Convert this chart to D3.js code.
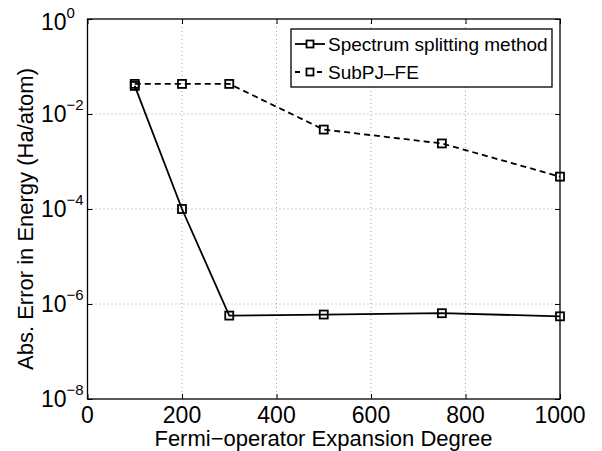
<!DOCTYPE html>
<html>
<head>
<meta charset="utf-8">
<script src="https://cdn.jsdelivr.net/npm/d3@7"></script>
<style>
  html, body { margin: 0; padding: 0; background: #fff; }
  svg { display: block; font-family: "Liberation Sans", Arial, Helvetica, sans-serif; }
</style>
</head>
<body>
<svg id="chart" width="602" height="451"></svg>
<script>
// ---- data ----
const degrees = [100, 200, 300, 500, 750, 1000];
const spectrumSplitting = [3.9e-2, 1.0e-4, 5.7e-7, 6.0e-7, 6.4e-7, 5.5e-7];
const subPJFE = [4.3e-2, 4.3e-2, 4.3e-2, 4.7e-3, 2.4e-3, 4.8e-4];
const xTicks = [0, 200, 400, 600, 800, 1000];
const yTickExponents = [0, -2, -4, -6, -8];
const seriesNames = ["Spectrum splitting method", "SubPJ\u2013FE"];
const xLabel = "Fermi\u2212operator Expansion Degree";
const yLabel = "Abs. Error in Energy (Ha/atom)";

// ---- layout ----
const svg = d3.select("#chart");
const L = 87.5, R = 560, T = 19, B = 399;
const x = d3.scaleLinear().domain([0, 1000]).range([L, R]);
const y = d3.scaleLog().domain([1e-8, 1]).range([B, T]);

// grid
const grid = svg.append("g").attr("stroke", "#a0a0a0").attr("stroke-width", 1)
  .attr("stroke-dasharray", "1,3");
xTicks.slice(1, -1).forEach(t => {
  grid.append("line").attr("x1", x(t)).attr("x2", x(t)).attr("y1", T).attr("y2", B);
});
yTickExponents.slice(1, -1).forEach(e => {
  grid.append("line").attr("x1", L).attr("x2", R).attr("y1", y(Math.pow(10, e))).attr("y2", y(Math.pow(10, e)));
});

// axes via d3 axis (ticks inside)
const tickLen = 5;
svg.append("g").attr("transform", `translate(0,${B})`)
  .call(d3.axisBottom(x).tickValues(xTicks).tickSize(-tickLen).tickFormat(""))
  .call(g => g.select(".domain").remove());
svg.append("g").attr("transform", `translate(0,${T})`)
  .call(d3.axisTop(x).tickValues(xTicks).tickSize(-tickLen).tickFormat(""))
  .call(g => g.select(".domain").remove());
const yTickVals = yTickExponents.map(e => Math.pow(10, e));
svg.append("g").attr("transform", `translate(${L},0)`)
  .call(d3.axisLeft(y).tickValues(yTickVals).tickSize(-tickLen).tickFormat(""))
  .call(g => g.select(".domain").remove());
svg.append("g").attr("transform", `translate(${R},0)`)
  .call(d3.axisRight(y).tickValues(yTickVals).tickSize(-tickLen).tickFormat(""))
  .call(g => g.select(".domain").remove());
svg.selectAll(".tick line").attr("stroke", "#000").attr("stroke-width", 1);

// box
svg.append("rect").attr("x", L).attr("y", T).attr("width", R - L).attr("height", B - T)
  .attr("fill", "none").attr("stroke", "#000").attr("stroke-width", 1.3);

// x tick labels
svg.append("g").selectAll("text").data(xTicks).join("text")
  .attr("x", d => x(d)).attr("y", 423)
  .attr("text-anchor", "middle").attr("font-size", 23).attr("fill", "#000")
  .text(d => d);

// y tick labels 10^e
const yl = svg.append("g");
yTickExponents.forEach(e => {
  const off = e === 0 ? 3 : 0;
  const t = yl.append("text").attr("x", 41).attr("y", y(Math.pow(10, e)) + 8 + off)
    .attr("font-size", 23).attr("fill", "#000");
  t.append("tspan").text("10");
  t.append("tspan").attr("font-size", 15).attr("dy", -12).text(e === 0 ? "0" : "\u2212" + Math.abs(e));
});

// axis labels
svg.append("text").attr("x", (150 + 497) / 2).attr("y", 446)
  .attr("text-anchor", "middle").attr("font-size", 22).attr("fill", "#000").text(xLabel);
svg.append("text").attr("transform", `translate(33,219) rotate(-90)`)
  .attr("text-anchor", "middle").attr("font-size", 22).attr("fill", "#000").text(yLabel);

// lines
const line = d3.line().x(d => x(d[0])).y(d => y(d[1]));
const series = [
  { name: seriesNames[0], values: spectrumSplitting, dash: null },
  { name: seriesNames[1], values: subPJFE, dash: "6,4" }
];
const ms = 8;
series.forEach(s => {
  const pts = degrees.map((d, i) => [d, s.values[i]]);
  svg.append("path").datum(pts).attr("d", line)
    .attr("fill", "none").attr("stroke", "#000").attr("stroke-width", 1.8)
    .attr("stroke-dasharray", s.dash);
  svg.append("g").selectAll("rect").data(pts).join("rect")
    .attr("x", d => x(d[0]) - ms / 2).attr("y", d => y(d[1]) - ms / 2)
    .attr("width", ms).attr("height", ms)
    .attr("fill", "none").attr("stroke", "#000").attr("stroke-width", 1.8);
});

// legend
const lg = svg.append("g");
lg.append("rect").attr("x", 291).attr("y", 29).attr("width", 261).attr("height", 58)
  .attr("fill", "#fff").attr("stroke", "#000").attr("stroke-width", 1.3);
series.forEach((s, i) => {
  const cy = 44 + i * 28;
  lg.append("line").attr("x1", 295).attr("x2", 325).attr("y1", cy).attr("y2", cy)
    .attr("stroke", "#000").attr("stroke-width", 1.8).attr("stroke-dasharray", s.dash ? "5,6" : null);
  lg.append("rect").attr("x", 310 - 3.5).attr("y", cy - 3.5).attr("width", 7).attr("height", 7)
    .attr("fill", "#fff").attr("stroke", "#000").attr("stroke-width", 1.8);
  lg.append("text").attr("x", 328).attr("y", cy + 7).attr("font-size", 19).attr("fill", "#000").text(s.name);
});
</script>
</body>
</html>
